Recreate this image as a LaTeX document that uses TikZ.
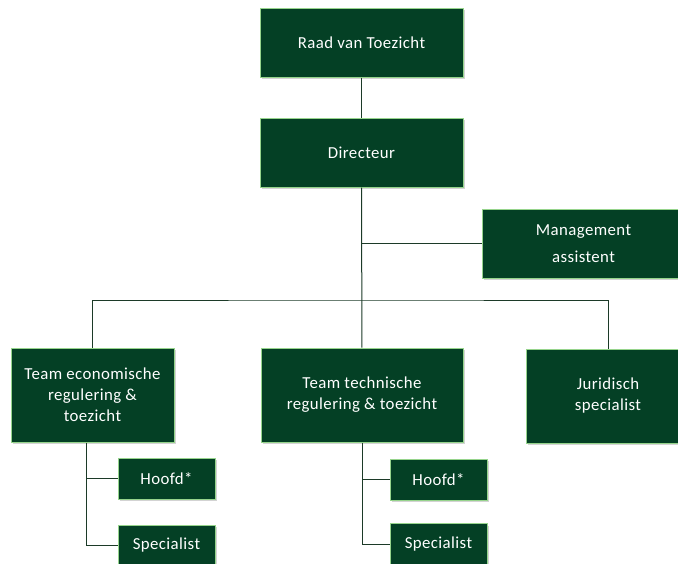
\documentclass[tikz,border=0pt]{standalone}
\usepackage{fontspec}
\setmainfont{Carlito}[LetterSpace=2.5]
\usetikzlibrary{shadows}

\definecolor{boxgreen}{RGB}{4,64,37}
\definecolor{rimgreen}{RGB}{150,212,140}
\definecolor{linegreen}{RGB}{28,58,40}

\begin{document}
\begin{tikzpicture}[x=1pt, y=-1pt,
    unit/.style={draw=rimgreen, line width=1pt, fill=boxgreen, text=white,
        align=center, inner sep=2pt, font=\fontsize{16.8}{21}\selectfont,
        drop shadow={shadow xshift=1.5pt, shadow yshift=-2pt, opacity=0.35}},
    link/.style={draw=linegreen, line width=1pt}]
    \useasboundingbox (0,0) rectangle (678,563);

    \node[unit, minimum width=203pt, minimum height=69pt] (raad) at (361.5,42.5) {Raad van Toezicht};
    \node[unit, minimum width=203pt, minimum height=69pt] (dir) at (361.5,152.5) {Directeur};
    \node[unit, minimum width=203pt, minimum height=69pt] (mgmt) at (583.5,243.5) {Management\\[6pt]assistent};

    \node[unit, minimum width=163pt, minimum height=94pt] (econ) at (92.5,395) {Team economische\\regulering \&\\toezicht};
    \node[unit, minimum width=202pt, minimum height=94pt] (tech) at (362,395) {Team technische\\regulering \& toezicht};
    \node[unit, minimum width=164pt, minimum height=94pt] (jur) at (608,396) {Juridisch\\specialist};

    \node[unit, minimum width=97pt, minimum height=41pt] (hoofdE) at (166.5,478.5) {Hoofd*};
    \node[unit, minimum width=97pt, minimum height=41pt] (specE) at (166.5,545.5) {Specialist};
    \node[unit, minimum width=97pt, minimum height=41pt] (hoofdT) at (438.5,479.5) {Hoofd*};
    \node[unit, minimum width=97pt, minimum height=41pt] (specT) at (438.5,544) {Specialist};

    \coordinate (bus) at (361.5,300);

    \draw[link] (raad) -- (dir);
    \draw[link] (dir) -- (tech);
    \draw[link] (dir.south |- mgmt.west) -- (mgmt.west);
    \draw[link] (econ.north) |- (bus) -| (jur.north); % one bar for the three teams

    \draw[link] ([xshift=-6pt]econ.south) |- (specE.west);
    \draw[link] ([xshift=-6pt]econ.south |- hoofdE.west) -- (hoofdE.west);
    \draw[link] (tech.south) |- (specT.west);
    \draw[link] (tech.south |- hoofdT.west) -- (hoofdT.west);
\end{tikzpicture}
\end{document}
